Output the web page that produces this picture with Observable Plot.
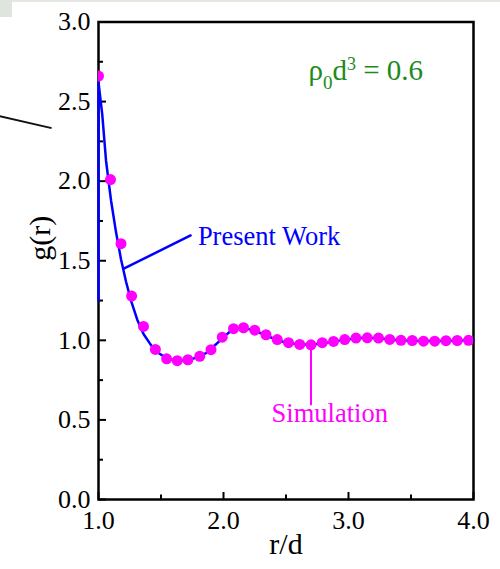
<!DOCTYPE html>
<html>
<head>
<meta charset="utf-8">
<script src="https://cdn.jsdelivr.net/npm/d3@7"></script>
<script src="https://cdn.jsdelivr.net/npm/@observablehq/plot@0.6"></script>
<style>
  html, body { margin: 0; padding: 0; background: #fff; }
  #wrap { position: relative; width: 500px; height: 569px; overflow: hidden; }
  #topline { position: absolute; left: 0; top: 0; width: 500px; height: 2px; background: #e3e8e1; }
  #corner { position: absolute; left: 0; top: 0; width: 12px; height: 17px; background: #dfe4dd; }
  #stroke { position: absolute; left: -1px; top: 115px; width: 54px; height: 2px; background: #111; transform: rotate(13deg); transform-origin: 0 50%; }
  #wrap svg { position: absolute; left: 0; top: 0; font-family: "Liberation Serif", serif; }
</style>
</head>
<body>
<div id="wrap">
  <div id="topline"></div>
  <div id="corner"></div>
  <div id="stroke"></div>
</div>
<script>
// Simulation (magenta dots)
const simR = [1.00, 1.096, 1.18, 1.265, 1.36, 1.455, 1.545, 1.63, 1.715, 1.81, 1.90, 1.99, 2.08, 2.16, 2.25, 2.34, 2.43, 2.52, 2.61, 2.70, 2.79, 2.88, 2.97, 3.06, 3.15, 3.24, 3.33, 3.42, 3.51, 3.60, 3.69, 3.78, 3.87, 3.96];
const simG = [2.66, 2.01, 1.607, 1.278, 1.087, 0.943, 0.884, 0.872, 0.878, 0.90, 0.941, 1.02, 1.073, 1.079, 1.064, 1.035, 1.005, 0.985, 0.974, 0.972, 0.985, 0.993, 1.005, 1.014, 1.016, 1.014, 1.006, 1.0, 0.999, 0.995, 0.995, 0.998, 0.999, 1.0];

// Present Work (blue line)
const theoryR = [1.0, 1.0, 1.03, 1.06, 1.10, 1.14, 1.18, 1.22, 1.26, 1.31, 1.36, 1.42, 1.48, 1.55, 1.62, 1.70, 1.78, 1.86, 1.94, 2.00, 2.06, 2.12, 2.18, 2.25, 2.33, 2.42, 2.50, 2.60, 2.70, 2.80, 2.90, 3.00, 3.10, 3.20, 3.30, 3.40, 3.50, 3.60, 3.70, 3.80, 3.90, 4.00];
const theoryG = [1.25, 2.62, 2.42, 2.13, 1.88, 1.68, 1.51, 1.37, 1.25, 1.13, 1.04, 0.97, 0.92, 0.885, 0.872, 0.875, 0.89, 0.92, 0.975, 1.02, 1.06, 1.075, 1.075, 1.06, 1.035, 1.005, 0.985, 0.975, 0.972, 0.982, 0.995, 1.007, 1.014, 1.015, 1.008, 1.0, 0.998, 0.996, 0.996, 0.998, 0.999, 1.0];

// Axis ticks
const xMajor = [1, 2, 3, 4];
const xMajorLabels = ["1.0", "2.0", "3.0", "4.0"];
const xMinor = [1.5, 2.5, 3.5];
const yMajor = [0, 0.5, 1, 1.5, 2, 2.5, 3];
const yMajorLabels = ["0.0", "0.5", "1.0", "1.5", "2.0", "2.5", "3.0"];
const yMinor = [0.25, 0.75, 1.25, 1.75, 2.25, 2.75];

// Annotations
const presentArrowR = [1.737, 1.206];
const presentArrowG = [1.659, 1.452];
const simArrowR = [2.70, 2.70];
const simArrowG = [0.957, 0.597];
const labelTexts = ["Present Work", "Simulation"];
const labelR = [1.795, 2.85];
const labelG = [1.596, 0.486];
const densityText = "ρ0d3 = 0.6";
const densityR = [2.68];
const densityG = [2.634];

const sim = simR.map((r, i) => ({r, g: simG[i]}));
const theory = theoryR.map((r, i) => ({r, g: theoryG[i]}));
const presentArrow = presentArrowR.map((r, i) => ({r, g: presentArrowG[i]}));
const simArrow = simArrowR.map((r, i) => ({r, g: simArrowG[i]}));

const BLUE = "#0000ff", MAG = "#ff00ff", GREEN = "#1b8b1b";
const FONT = "Liberation Serif";

const chart = Plot.plot({
  width: 500,
  height: 569,
  marginLeft: 98,
  marginRight: 27,
  marginTop: 21.5,
  marginBottom: 70,
  style: {fontFamily: FONT, background: "transparent", color: "#000"},
  x: {domain: [1, 4]},
  y: {domain: [0, 3]},
  marks: [
    // ticks (inward)
    Plot.axisX({ticks: xMajor, tickSize: -7, strokeWidth: 2, tickFormat: () => "", label: null}),
    Plot.axisX({ticks: xMinor, tickSize: -4.5, strokeWidth: 2, tickFormat: () => "", label: null}),
    Plot.axisY({ticks: yMajor, tickSize: -8, strokeWidth: 2, tickFormat: () => "", label: null}),
    Plot.axisY({ticks: yMinor, tickSize: -5, strokeWidth: 2, tickFormat: () => "", label: null}),
    // tick labels
    Plot.axisX({ticks: xMajor, tickSize: 0, tickPadding: 11, tickFormat: (d, i) => xMajorLabels[i], fontSize: 26, fontFamily: FONT, label: null}),
    Plot.axisY({ticks: yMajor, tickSize: 0, tickPadding: 8, tickFormat: (d, i) => yMajorLabels[i], fontSize: 26, fontFamily: FONT, label: null}),
    Plot.frame({stroke: "#000", strokeWidth: 2.5}),
    // axis titles
    Plot.text(["r/d"], {frameAnchor: "bottom", dy: 54.5, fontSize: 30, fontFamily: FONT, fill: "#000"}),
    Plot.text(["g(r)"], {frameAnchor: "left", rotate: -90, dx: -58.5, fontSize: 30, fontFamily: FONT, fill: "#000"}),
    // data
    Plot.line(theory, {x: "r", y: "g", stroke: BLUE, strokeWidth: 2.5, curve: "linear"}),
    Plot.dot(sim, {x: "r", y: "g", r: 5.5, fill: MAG, stroke: "none", clip: "frame"}),
    // annotations
    Plot.line(presentArrow, {x: "r", y: "g", stroke: BLUE, strokeWidth: 2.5}),
    Plot.line(simArrow, {x: "r", y: "g", stroke: MAG, strokeWidth: 2}),
    Plot.text([0], {x: () => labelR[0], y: () => labelG[0], text: () => labelTexts[0], textAnchor: "start", lineAnchor: "bottom", fontSize: 26.5, fontFamily: FONT, fill: BLUE}),
    Plot.text([0], {x: () => labelR[1], y: () => labelG[1], text: () => labelTexts[1], textAnchor: "middle", lineAnchor: "bottom", fontSize: 26.5, fontFamily: FONT, fill: MAG}),
    Plot.text([0], {x: () => densityR[0], y: () => densityG[0], text: () => densityText, textAnchor: "start", lineAnchor: "bottom", fontSize: 29, fontFamily: FONT, fill: GREEN})
  ]
});

document.getElementById("wrap").appendChild(chart);

// Render the sub/superscripts of the density label
chart.querySelectorAll("text").forEach(t => {
  if (t.textContent === densityText) {
    const ns = "http://www.w3.org/2000/svg";
    t.textContent = "";
    const parts = [
      {s: "ρ", dy: 0},
      {s: "0", dy: 9, size: 19},
      {s: "d", dy: -9},
      {s: "3", dy: -10, size: 18},
      {s: " = 0.6", dy: 10}
    ];
    parts.forEach(p => {
      const ts = document.createElementNS(ns, "tspan");
      ts.textContent = p.s;
      if (p.dy) ts.setAttribute("dy", p.dy);
      if (p.size) ts.setAttribute("font-size", p.size);
      t.appendChild(ts);
    });
  }
});
</script>
</body>
</html>
